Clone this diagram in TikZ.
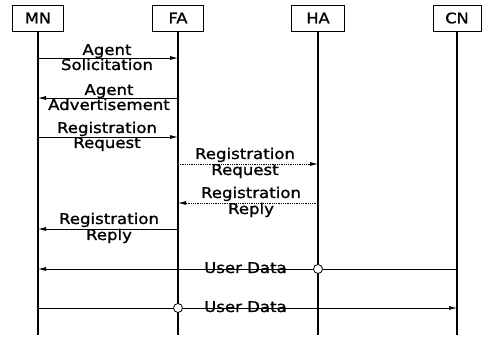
\documentclass[tikz,border=0pt]{standalone}
\usepackage{fontspec}
\setmainfont[FakeStretch=1.12,FakeBold=1.2]{DejaVu Sans}
\usetikzlibrary{arrows.meta}
\begin{document}
\begin{tikzpicture}[x=1pt,y=-1pt,
  entity/.style={draw, line width=0.9pt, minimum width=51pt, minimum height=26pt,
    inner sep=0pt, font=\fontsize{14.5}{15}\selectfont},
  life/.style={line width=1.3pt},
  msg/.style={line width=0.8pt, -{Latex[length=8pt,width=4pt]}},
  relay/.style={msg, densely dotted},
  lab/.style={font=\fontsize{14.8}{15}\selectfont, inner sep=0pt},
  hop/.style={circle, draw, fill=white, line width=0.8pt, minimum size=9pt, inner sep=0pt}]
\useasboundingbox (0,0) rectangle (491,337);

% participants
\node[entity] (MN) at (38,18) {MN};
\node[entity] (FA) at (178,18) {FA};
\node[entity, minimum width=53pt] (HA) at (318,18) {HA};
\node[entity, minimum width=48pt] (CN) at (457,18) {CN};

% lifeline ends
\coordinate (MNend) at (MN.south |- 0,335);
\coordinate (FAend) at (FA.south |- 0,335);
\coordinate (HAend) at (HA.south |- 0,335);
\coordinate (CNend) at (CN.south |- 0,335);

% message levels on each lifeline
\foreach \n/\y in {1/58,2/98,3/137,4/164,5/203,6/229,7/269,8/308} {
  \coordinate (MN\n) at (MN.south |- 0,\y);
  \coordinate (FA\n) at (FA.south |- 0,\y);
  \coordinate (HA\n) at (HA.south |- 0,\y);
  \coordinate (CN\n) at (CN.south |- 0,\y);
}

% lifelines
\draw[life] (MN) -- (MNend);
\draw[life] (FA) -- (FAend);
\draw[life] (HA) -- (HAend);
\draw[life] (CN) -- (CNend);

% messages
\draw[msg] (MN1) -- (FA1)
  node[lab, midway, xshift=-1pt, anchor=base, yshift=3pt] {Agent}
  node[lab, midway, xshift=-1pt, anchor=base, yshift=-12pt] {Solicitation};
\draw[msg] (FA2) -- (MN2)
  node[lab, midway, xshift=1pt, anchor=base, yshift=3pt] {Agent}
  node[lab, midway, xshift=1pt, anchor=base, yshift=-12pt] {Advertisement};
\draw[msg] (MN3) -- (FA3)
  node[lab, midway, xshift=-1pt, anchor=base, yshift=4pt] {Registration}
  node[lab, midway, xshift=-1pt, anchor=base, yshift=-11pt] {Request};
\draw[relay] (FA4) -- (HA4)
  node[lab, midway, xshift=-3pt, anchor=base, yshift=5pt] {Registration}
  node[lab, midway, xshift=-3pt, anchor=base, yshift=-11pt] {Request};
\draw[relay] (HA5) -- (FA5)
  node[lab, midway, xshift=3pt, anchor=base, yshift=5pt] {Registration}
  node[lab, midway, xshift=3pt, anchor=base, yshift=-11pt] {Reply};
\draw[msg] (FA6) -- (MN6)
  node[lab, midway, xshift=1pt, anchor=base, yshift=5pt] {Registration}
  node[lab, midway, xshift=1pt, anchor=base, yshift=-11pt] {Reply};

% user data, crossing the other lifelines
\draw[msg] (CN7) -- (MN7)
  node[lab, midway, xshift=-2pt, anchor=base, yshift=-4pt] {User Data};
\node[hop] (hopHA) at (HA7) {};
\draw[msg] (MN8) -- (CN8)
  node[lab, midway, xshift=-2pt, anchor=base, yshift=-4pt] {User Data};
\node[hop] (hopFA) at (FA8) {};
\end{tikzpicture}
\end{document}
